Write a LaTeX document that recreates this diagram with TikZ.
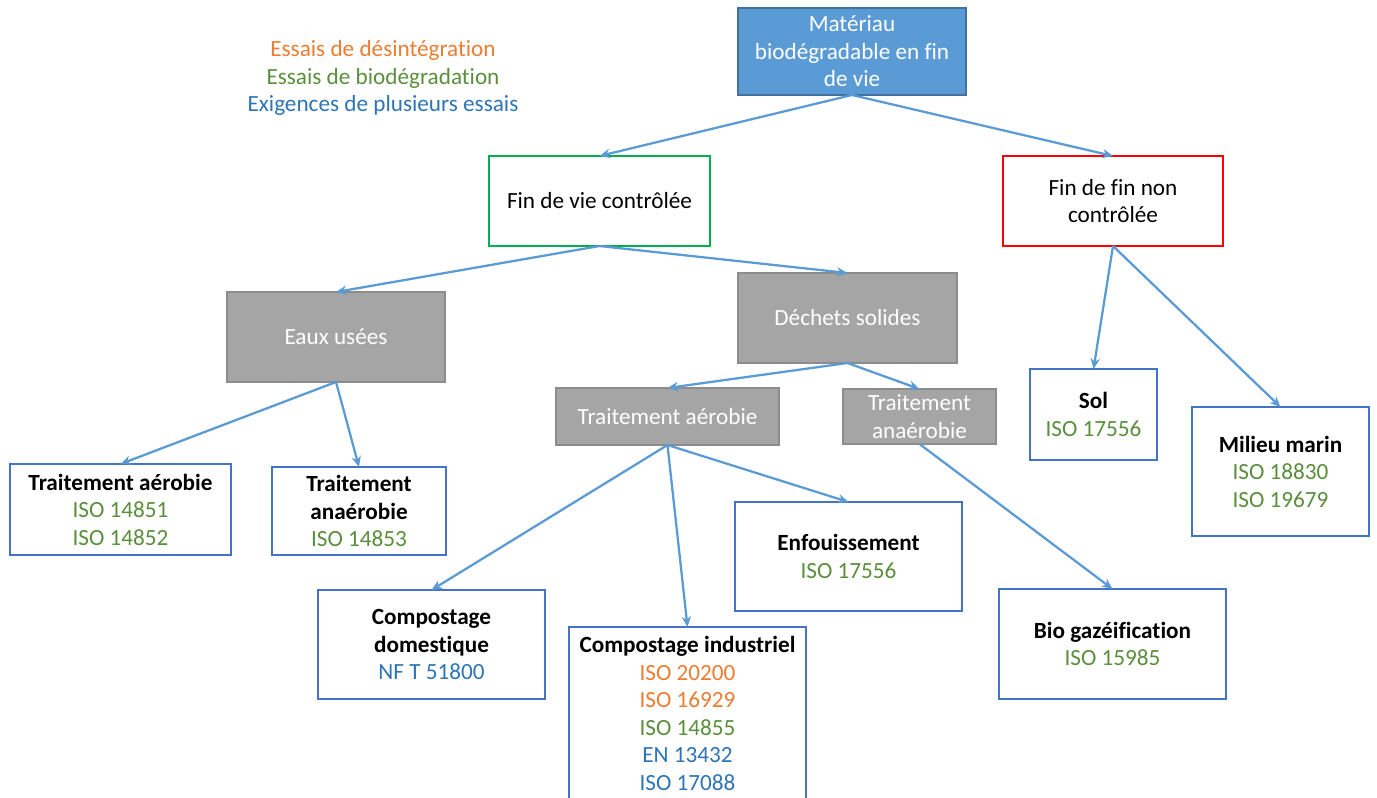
\documentclass[tikz,border=0pt]{standalone}
\usepackage{fontspec}
\setmainfont{Carlito}[Ligatures={NoCommon}]
\usetikzlibrary{arrows.meta}
\definecolor{arrowblue}{HTML}{5B9BD5}
\definecolor{frameblue}{HTML}{4472C4}
\definecolor{topfill}{HTML}{5B9BD5}
\definecolor{topline}{HTML}{41719C}
\definecolor{boxgray}{HTML}{A5A5A5}
\definecolor{linegray}{HTML}{8C8C8C}
\definecolor{txtorange}{HTML}{ED7D31}
\definecolor{txtgreen}{HTML}{5A8F3C}
\definecolor{txtblue}{HTML}{2E75B6}
\definecolor{ctrlgreen}{HTML}{00B050}
\definecolor{ctrlred}{HTML}{FF0000}

\begin{document}
\begin{tikzpicture}[
  x=0.75pt, y=-0.75pt,
  every node/.style={font=\fontsize{17.4}{20.6}\selectfont, align=center,
                     inner sep=0pt, outer sep=0pt},
  link/.style={arrowblue, line width=1.7pt, -{Stealth[length=8pt, width=7pt]}},
  topbox/.style={draw=topline, fill=topfill, line width=1pt, text=white},
  gatebox/.style={draw, fill=white, line width=1.9pt},
  graybox/.style={draw=linegray, fill=boxgray, line width=0.8pt, text=white},
  normbox/.style={draw=frameblue, fill=white, line width=1.9pt},
]
\useasboundingbox (0,0) rectangle (1377,797);

% legende
\node (legend) at (383,78) {\textcolor{txtorange}{Essais de désintégration}\\
  \textcolor{txtgreen}{Essais de biodégradation}\\
  \textcolor{txtblue}{Exigences de plusieurs essais}};

% niveau 1 et 2
\node[topbox, minimum width=228*0.75pt, minimum height=87*0.75pt]
  (mat) at (852,51.5) {Matériau\\biodégradable en fin\\de vie};
\node[gatebox, draw=ctrlgreen, minimum width=221*0.75pt, minimum height=90*0.75pt]
  (ctrl) at (599.5,201) {Fin de vie contrôlée};
\node[gatebox, draw=ctrlred, minimum width=220*0.75pt, minimum height=90*0.75pt]
  (nonctrl) at (1113,201) {Fin de fin non\\contrôlée};

% filieres
\node[graybox, minimum width=218*0.75pt, minimum height=90*0.75pt]
  (eaux) at (336,337) {Eaux usées};
\node[graybox, minimum width=219*0.75pt, minimum height=90*0.75pt]
  (dechets) at (847.5,318) {Déchets solides};
\node[graybox, minimum width=223*0.75pt, minimum height=57*0.75pt]
  (aero) at (667.5,416.5) {Traitement aérobie};
\node[graybox, minimum width=153*0.75pt, minimum height=55*0.75pt]
  (anaero) at (919.5,416.5) {Traitement\\anaérobie};

% normes
\node[normbox, minimum width=221*0.75pt, minimum height=91*0.75pt]
  (eauxaero) at (120.5,509.5) {\textbf{Traitement aérobie}\\
  \textcolor{txtgreen}{ISO 14851}\\\textcolor{txtgreen}{ISO 14852}};
\node[normbox, minimum width=174*0.75pt, minimum height=88*0.75pt]
  (eauxanaero) at (359,511) {\textbf{Traitement}\\\textbf{anaérobie}\\
  \textcolor{txtgreen}{ISO 14853}};
\node[normbox, minimum width=227*0.75pt, minimum height=109*0.75pt]
  (compdom) at (431.5,644.5) {\textbf{Compostage}\\\textbf{domestique}\\
  \textcolor{txtblue}{NF T 51800}};
\node[normbox, minimum width=237*0.75pt, minimum height=173*0.75pt]
  (compind) at (687.5,713.5) {\textbf{Compostage industriel}\\
  \textcolor{txtorange}{ISO 20200}\\\textcolor{txtorange}{ISO 16929}\\
  \textcolor{txtgreen}{ISO 14855}\\\textcolor{txtblue}{EN 13432}\\
  \textcolor{txtblue}{ISO 17088}};
\node[normbox, minimum width=227*0.75pt, minimum height=109*0.75pt]
  (enfouis) at (848.5,556.5) {\textbf{Enfouissement}\\
  \textcolor{txtgreen}{ISO 17556}};
\node[normbox, minimum width=227*0.75pt, minimum height=110*0.75pt]
  (biogaz) at (1112.5,644) {\textbf{Bio gazéification}\\
  \textcolor{txtgreen}{ISO 15985}};
\node[normbox, minimum width=127*0.75pt, minimum height=91*0.75pt]
  (sol) at (1093.5,414.5) {\textbf{Sol}\\\textcolor{txtgreen}{ISO 17556}};
\node[normbox, minimum width=177*0.75pt, minimum height=129*0.75pt]
  (marin) at (1280.5,471.5) {\textbf{Milieu marin}\\
  \textcolor{txtgreen}{ISO 18830}\\\textcolor{txtgreen}{ISO 19679}};

% fleches
\draw[link] (mat.south) -- (ctrl.north);
\draw[link] (mat.south) -- (nonctrl.north);
\draw[link] (ctrl.south) -- (eaux.north);
\draw[link] (ctrl.south) -- (dechets.north);
\draw[link] (nonctrl.south) -- (sol.north);
\draw[link] (nonctrl.south) -- (marin.north);
\draw[link] (eaux.south) -- (eauxaero.north);
\draw[link] (eaux.south) -- (eauxanaero.north);
\draw[link] (dechets.south) -- (aero.north);
\draw[link] (dechets.south) -- (anaero.north);
\draw[link] (aero.south) -- (compdom.north);
\draw[link] (aero.south) -- (compind.north);
\draw[link] (aero.south) -- (enfouis.north);
\draw[link] (anaero.south) -- (biogaz.north);

\end{tikzpicture}
\end{document}
